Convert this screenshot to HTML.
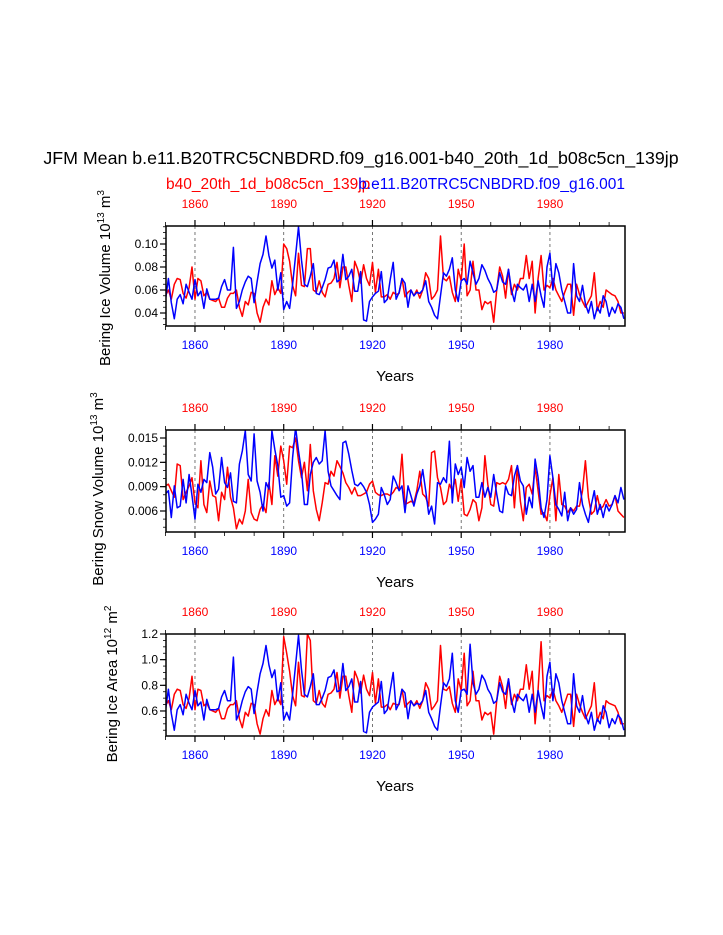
<!DOCTYPE html>
<html><head><meta charset="utf-8"><style>
html,body{margin:0;padding:0;background:#fff;}
svg{display:block;font-family:"Liberation Sans",sans-serif;}
</style></head><body>
<svg id="chart" width="723" height="935" viewBox="0 0 723 935">
<text x="361" y="164" font-size="17.8" text-anchor="middle">JFM Mean b.e11.B20TRC5CNBDRD.f09_g16.001-b40_20th_1d_b08c5cn_139jp</text>
<text x="166" y="189" font-size="15.5" fill="#ff0000">b40_20th_1d_b08c5cn_139jp</text>
<text x="625" y="189" font-size="15.5" fill="#0000ff" text-anchor="end">b.e11.B20TRC5CNBDRD.f09_g16.001</text>
<g id="panels"></g>
</svg>
<script>
const years = [];
for (let y = 1850; y <= 2005; y++) years.push(y);
const xTickYears = [1860, 1890, 1920, 1950, 1980];

const iceVolBlue = [
.051,.070,.049,.035,.052,.056,.048,.065,.058,
.052,.069,.055,.059,.044,.061,.052,.052,.052,
.053,.063,.069,.060,.060,.097,.044,.050,.060,
.067,.072,.070,.049,.067,.083,.091,.107,.090,
.079,.086,.060,.075,.043,.050,.044,.065,.090,
.115,.086,.065,.063,.072,.083,.057,.056,.062,
.069,.079,.080,.086,.067,.069,.091,.069,.072,
.078,.059,.059,.076,.034,.033,.050,.054,.057,
.059,.076,.049,.052,.069,.084,.052,.058,
.070,.066,.045,.060,.055,.058,.057,.060,.068,.050,
.045,.038,.035,.055,.075,.072,.078,.088,.060,.050,
.068,.070,.065,.085,.075,.065,.070,.082,.077,.070,
.065,.058,.060,.075,.067,.065,.078,.060,.050,.065,
.062,.060,.065,.050,.065,.050,.068,.055,.045,.080,
.092,.060,.083,.075,.060,.050,.040,.040,.083,.055,
.050,.064,.048,.040,.050,.035,.045,.040,.055,.050,
.037,.045,.040,.048,.045,.035];
const iceVolRed = [
.055,.060,.052,.065,.070,.069,.057,.053,.062,.080,
.052,.070,.068,.055,.058,.052,.051,.050,.053,.045,
.045,.053,.057,.057,.060,.045,.037,.050,.047,.058,
.057,.040,.032,.045,.052,.047,.068,.056,.062,.057,
.100,.096,.085,.064,.055,.092,.064,.063,.096,.096,
.060,.058,.068,.058,.054,.065,.066,.070,.084,.062,
.080,.080,.064,.050,.085,.078,.066,.082,.070,.064,
.084,.058,.078,.054,.054,.056,.052,.058,.056,.057,
.070,.054,.058,.060,.055,.060,.053,.060,.075,.070,
.052,.055,.060,.107,.070,.068,.072,.058,.050,.078,
.068,.100,.055,.060,.085,.060,.060,.043,.050,.048,
.050,.032,.060,.080,.072,.053,.078,.056,.065,.060,
.070,.070,.090,.070,.085,.040,.070,.090,.060,.064,
.062,.070,.060,.055,.050,.058,.065,.065,.038,.065,
.056,.050,.045,.050,.055,.075,.042,.050,.045,.060,
.058,.056,.055,.050,.040,.040];
const snowBlue = [
.0081,.0085,.0052,.0091,.0064,.0066,.0099,.0070,.0105,
.0079,.0050,.0093,.0083,.0099,.0095,.0132,.0114,
.0081,.0087,.0126,.0095,.0089,.0107,.0072,.0070,.0118,
.0134,.0159,.0105,.0097,.0155,.0097,.0083,.0060,.0095,.0087,
.0159,.0136,.0116,.0077,.0079,.0066,.0070,.0126,.0163,.0134,
.0109,.0068,.0068,.0105,.0120,.0126,.0118,.0122,.0159,.0109,.0091,.0085,
.0079,.0074,.0144,.0146,.0130,.0110,.0093,.0091,.0095,.0090,.0083,.0068,
.0046,.0050,.0056,.0089,.0080,.0068,.0074,.0103,.0095,.0085,
.0091,.0058,.0091,.0079,.0066,.0081,.0091,.0111,.0085,.0056,
.0066,.0044,.0095,.0093,.0101,.0095,.0146,.0070,.0118,.0105,
.0114,.0089,.0126,.0109,.0116,.0077,.0077,.0095,.0077,.0089,
.0077,.0105,.0081,.0060,.0058,.0091,.0081,.0079,.0103,.0116,
.0097,.0091,.0056,.0077,.0064,.0124,.0101,.0064,.0052,.0074,
.0128,.0101,.0068,.0062,.0054,.0083,.0048,.0064,.0056,.0062,
.0095,.0068,.0056,.0046,.0068,.0085,.0056,.0068,.0052,.0068,
.0060,.0068,.0079,.0070,.0089,.0074];
const snowRed = [
.0091,.0093,.0085,.0077,.0118,.0116,.0074,.0083,.0091,.0101,
.0070,.0064,.0122,.0068,.0058,.0097,.0079,.0077,.0048,.0083,
.0074,.0114,.0077,.0064,.0038,.0050,.0044,.0060,.0099,.0058,
.0050,.0048,.0062,.0068,.0058,.0095,.0068,.0128,.0103,.0140,
.0122,.0093,.0140,.0138,.0150,.0122,.0101,.0120,.0085,.0142,
.0085,.0062,.0048,.0070,.0095,.0093,.0109,.0103,.0122,.0115,.0107,.0095,
.0089,.0081,.0089,.0079,.0079,.0081,.0083,.0093,.0097,.0083,.0080,.0079,
.0081,.0081,.0079,.0083,.0089,.0087,
.0130,.0068,.0070,.0072,.0070,.0085,.0109,.0081,.0077,.0066,
.0132,.0134,.0101,.0089,.0068,.0072,.0093,.0085,.0099,.0072,
.0099,.0056,.0054,.0062,.0074,.0070,.0048,.0064,.0128,.0093,
.0068,.0066,.0095,.0093,.0095,.0093,.0099,.0116,.0064,.0116,
.0072,.0048,.0089,.0093,.0081,.0114,.0085,.0056,.0058,.0048,
.0079,.0101,.0048,.0105,.0068,.0066,.0058,.0064,.0060,.0066,
.0066,.0085,.0122,.0077,.0056,.0060,.0079,.0062,.0066,.0074,
.0066,.0068,.0079,.0060,.0056,.0052];
const areaBlue = [
.60,.77,.58,.45,.61,.65,.57,.73,.66,
.61,.76,.64,.67,.53,.69,.61,.61,.61,
.62,.71,.76,.68,.68,1.02,.53,.59,.68,
.75,.79,.77,.58,.75,.89,.97,1.11,.96,
.86,.92,.68,.82,.53,.59,.53,.73,.96,
1.19,.92,.73,.71,.79,.89,.65,.65,.70,
.76,.86,.87,.92,.75,.76,.97,.76,.79,
.85,.67,.67,.83,.44,.43,.59,.63,.65,
.67,.83,.58,.61,.76,.90,.61,.66,
.77,.74,.54,.68,.64,.66,.65,.68,.76,.59,
.54,.48,.45,.64,.82,.79,.85,1.05,.68,.59,
.76,.77,.73,1.12,.82,.73,.77,.88,.84,.77,
.73,.66,.68,.82,.75,.73,.85,.68,.59,.73,
.70,.68,.73,.59,.73,.59,.76,.64,.54,.87,
.98,.68,.89,.82,.68,.59,.50,.50,.89,.64,
.59,.72,.57,.50,.59,.45,.54,.50,.64,.59,
.47,.54,.50,.57,.54,.45];
const areaRed = [
.64,.68,.61,.73,.77,.76,.65,.62,.70,.87,
.61,.77,.76,.64,.66,.61,.60,.59,.62,.54,
.54,.62,.65,.65,.68,.54,.47,.59,.56,.66,
.65,.50,.42,.54,.61,.56,.76,.65,.70,.65,
1.18,1.05,.91,.72,.64,.98,.72,.71,1.20,1.15,
.68,.66,.76,.66,.63,.73,.74,.77,.90,.70,
.87,.87,.72,.59,.91,.85,.74,.88,.77,.72,
.90,.66,.85,.63,.63,.65,.61,.66,.65,.65,
.77,.63,.66,.68,.64,.68,.62,.68,.82,.77,
.61,.64,.68,1.11,.77,.76,.79,.66,.59,.85,
.76,1.05,.64,.68,.91,.68,.68,.53,.59,.57,
.59,.42,.68,.87,.79,.62,.85,.65,.73,.68,
.77,.77,.96,.77,.91,.50,.77,1.14,.68,.72,
.70,.77,.68,.64,.59,.66,.73,.73,.48,.73,
.65,.59,.54,.59,.64,.82,.52,.59,.54,.68,
.66,.65,.64,.59,.50,.50];

const p1Ticks = [0.04, 0.06, 0.08, 0.10];
const p1TickLabels = ["0.04", "0.06", "0.08", "0.10"];
const p2Ticks = [0.006, 0.009, 0.012, 0.015];
const p2TickLabels = ["0.006", "0.009", "0.012", "0.015"];
const p3Ticks = [0.6, 0.8, 1.0, 1.2];
const p3TickLabels = ["0.6", "0.8", "1.0", "1.2"];

const NS = "http://www.w3.org/2000/svg";
const root = document.getElementById("panels");
const L = 166, R = 625;
function xs(yr) { return 165.4 + (yr - 1850) * 2.958; }
function mk(tag, attrs, parent) {
  const e = document.createElementNS(NS, tag);
  for (const k in attrs) e.setAttribute(k, attrs[k]);
  (parent || root).appendChild(e);
  return e;
}

const panels = [
  {top:226, bot:326, v0:0.10, y0:244, k:1150, ticks:p1Ticks, labels:p1TickLabels, minor:0.005, blue:iceVolBlue, red:iceVolRed,
   title:["Bering Ice Volume 10","13"," m","3"], tx:110, ty:278, name:"ice-volume"},
  {top:430, bot:532, v0:0.015, y0:438, k:8111, ticks:p2Ticks, labels:p2TickLabels, minor:0.001, blue:snowBlue, red:snowRed,
   title:["Bering Snow Volume 10","13"," m","3"], tx:103, ty:489, name:"snow-volume"},
  {top:634, bot:736, v0:1.2, y0:634, k:128.3, ticks:p3Ticks, labels:p3TickLabels, minor:0.05, blue:areaBlue, red:areaRed,
   title:["Bering Ice Area 10","12"," m","2"], tx:117, ty:684, name:"ice-area"}
];

panels.forEach((p, pi) => {
  const g = mk("g", {});
  
  
  const ys = v => p.y0 - (v - p.v0) * p.k;
  const clipId = "clip" + pi;
  const cp = mk("clipPath", {id: clipId}, g);
  mk("rect", {x:L, y:p.top, width:R-L, height:p.bot-p.top}, cp);
  xTickYears.forEach(yr => {
    const l = mk("line", {x1:xs(yr), x2:xs(yr), y1:p.top, y2:p.bot, stroke:"#555", "stroke-width":0.8, "stroke-dasharray":"3,3"}, g);
    
    
  });
  for (let yr = 1850; yr <= 2000; yr += 10) {
    const major = xTickYears.includes(yr);
    const len = major ? 6 : 4;
    mk("line", {x1:xs(yr), x2:xs(yr), y1:p.top, y2:p.top-len, stroke:"#000", "stroke-width":major?1.2:0.8}, g);
    mk("line", {x1:xs(yr), x2:xs(yr), y1:p.bot, y2:p.bot+len, stroke:"#000", "stroke-width":major?1.2:0.8}, g);
  }
  xTickYears.forEach(yr => {
    const t1 = mk("text", {x:xs(yr), y:p.top-18, "font-size":12, fill:"#ff0000", "text-anchor":"middle"}, g);
    t1.textContent = yr;
    
    
    const t2 = mk("text", {x:xs(yr), y:p.bot+23, "font-size":12, fill:"#0000ff", "text-anchor":"middle"}, g);
    t2.textContent = yr;
    
    
  });
  const xt = mk("text", {x:395, y:p.bot+55, "font-size":15, "text-anchor":"middle"}, g);
  xt.textContent = "Years";
  
  
  const vmin = p.v0 - (p.bot - p.y0) / p.k, vmax = p.v0 + (p.y0 - p.top) / p.k;
  for (let v = Math.ceil(vmin / p.minor) * p.minor; v <= vmax + 1e-9; v += p.minor) {
    mk("line", {x1:L, x2:L-3, y1:ys(v), y2:ys(v), stroke:"#000", "stroke-width":0.8}, g);
  }
  p.ticks.forEach((v, i) => {
    mk("line", {x1:L, x2:L-6, y1:ys(v), y2:ys(v), stroke:"#000", "stroke-width":1.2}, g);
    const t = mk("text", {x:L-8, y:ys(v)+4, "font-size":12, "text-anchor":"end"}, g);
    t.textContent = p.labels[i];
    
    
  });
  const yt = mk("text", {x:0, y:0, "font-size":15, "text-anchor":"middle", transform:`translate(${p.tx},${p.ty}) rotate(-90)`}, g);
  
  
  [[p.title[0],0],[p.title[1],1],[p.title[2],0],[p.title[3],1]].forEach(([s, sup]) => {
    const ts = mk("tspan", sup ? {"font-size":10, dy:-6} : {dy: 0}, yt);
    ts.textContent = s;
  });
  const tsp = yt.querySelectorAll("tspan");
  tsp[2].setAttribute("dy", 6);
  [[p.red, "#ff0000", "red"], [p.blue, "#0000ff", "blue"]].forEach(([arr, col, nm]) => {
    const d = arr.map((v, i) => (i ? "L" : "M") + xs(years[i]).toFixed(1) + " " + ys(v).toFixed(1)).join(" ");
    const path = mk("path", {d:d, fill:"none", stroke:col, "stroke-width":1.5, "clip-path":`url(#${clipId})`, "stroke-linejoin":"round"}, g);
    
    
  });
  const box = mk("rect", {x:L, y:p.top, width:R-L, height:p.bot-p.top, fill:"none", stroke:"#000", "stroke-width":1.5}, g);
  
  
});
</script>
</body></html>
